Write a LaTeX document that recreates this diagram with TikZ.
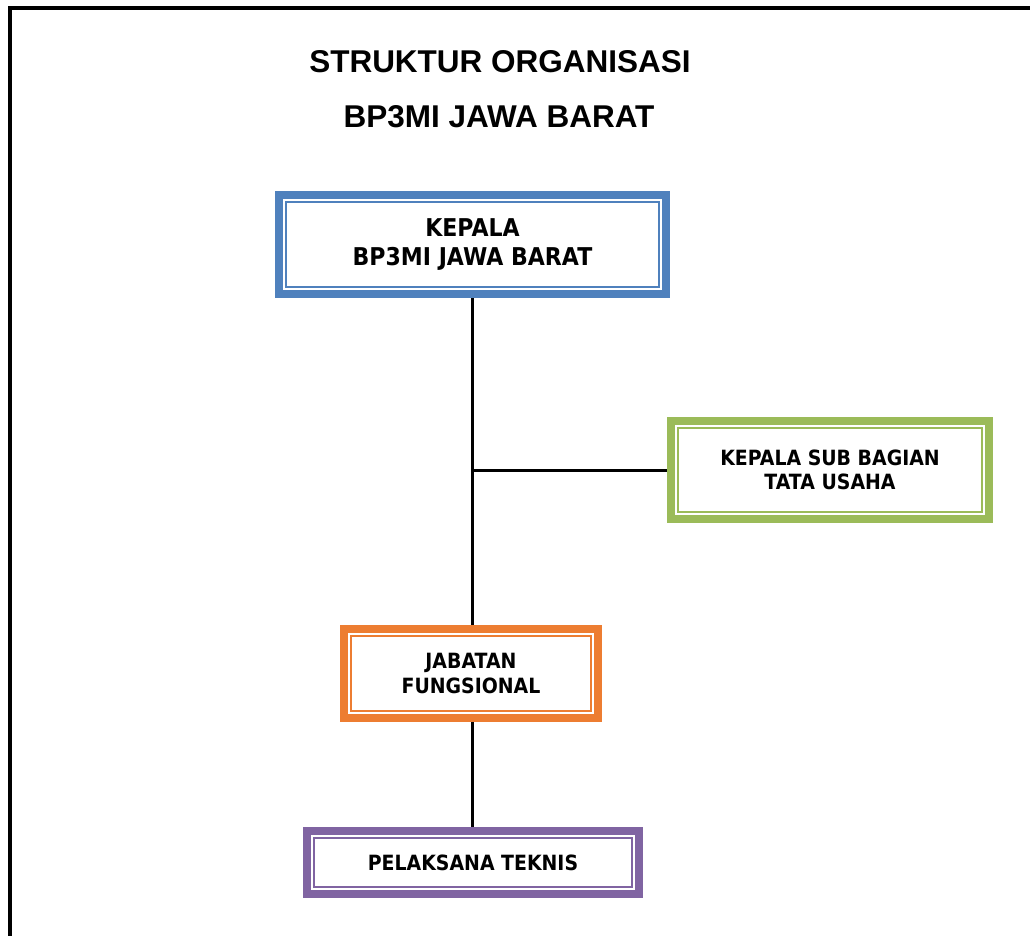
\documentclass[tikz,border=0pt]{standalone}
\usepackage{fontspec}
\setmainfont{Liberation Sans}
\newfontfamily\boxfont[FakeStretch=0.9]{DejaVu Sans}
\usetikzlibrary{calc}
\definecolor{cblue}{HTML}{4F81BD}
\definecolor{cgreen}{HTML}{9BBB59}
\definecolor{corange}{HTML}{ED7D31}
\definecolor{cpurple}{HTML}{8064A2}
\tikzset{
  orgbox/.style={draw=#1, line width=8pt, fill=white, align=center, inner sep=0pt, text=black},
  inner/.style={draw=#1, line width=2pt},
  conn/.style={draw=black, line width=3pt},
  titletext/.style={font=\fontsize{31.5}{31.5}\selectfont\bfseries, anchor=base, inner sep=0pt},
}
\begin{document}
\begin{tikzpicture}[x=1pt,y=-1pt]
\useasboundingbox (0,0) rectangle (1030,936);
\fill[white] (0,0) rectangle (1030,936);
\draw[line width=4pt] (10,940) -- (10,8) -- (1034,8);
\node[titletext] (t1) at (500,73) {STRUKTUR ORGANISASI};
\node[titletext] (t2) at (499,128) {BP3MI JAWA BARAT};
\node[orgbox=cblue, minimum width=387pt, minimum height=99pt,
      font=\boxfont\fontsize{24.5}{29}\selectfont\bfseries] (kep) at (472.5,244.5) {KEPALA\\BP3MI JAWA BARAT};
\node[orgbox=cgreen, minimum width=318pt, minimum height=98pt,
      font=\boxfont\fontsize{21}{24}\selectfont\bfseries] (sub) at (830,470) {KEPALA SUB BAGIAN\\TATA USAHA};
\node[orgbox=corange, minimum width=254pt, minimum height=89pt,
      font=\boxfont\fontsize{21}{25}\selectfont\bfseries] (jab) at (471,673.5) {JABATAN\\FUNGSIONAL};
\node[orgbox=cpurple, minimum width=332pt, minimum height=63pt,
      font=\boxfont\fontsize{21}{24}\selectfont\bfseries] (pel) at (473,862.5) {PELAKSANA TEKNIS};
\foreach \n/\c in {kep/cblue, sub/cgreen, jab/corange, pel/cpurple}{
  \draw[inner=\c] ($(\n.south west)+(11pt,11pt)$) rectangle ($(\n.north east)+(-11pt,-11pt)$);
}
\coordinate (j) at (kep.south |- sub.west);
\draw[conn] (kep.south) -- (j) -- (j |- jab.north);
\draw[conn] (j) -- (sub.west);
\draw[conn] (jab.south -| j) -- (j |- pel.north);
\end{tikzpicture}
\end{document}
